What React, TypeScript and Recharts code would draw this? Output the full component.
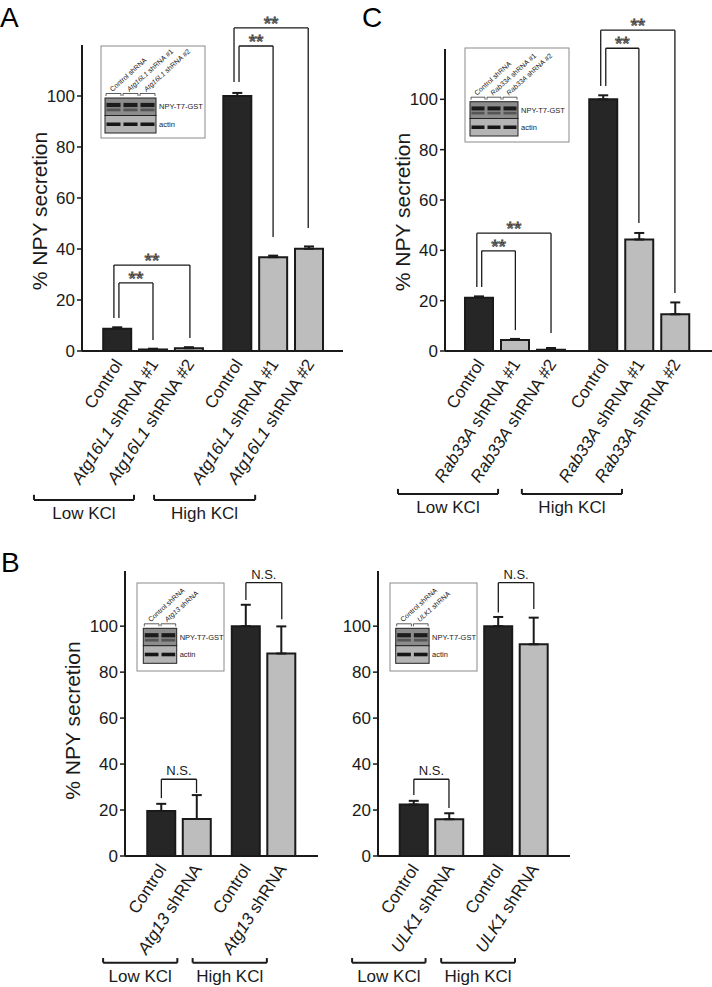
import {
  Bar,
  BarChart,
  Cell,
  ErrorBar,
  ReferenceDot,
  ReferenceLine,
  XAxis,
  YAxis,
} from "recharts";

const FONT = '"Liberation Sans", Arial, Helvetica, sans-serif';
const INK = "#1a1a1a";
const DARK = "#262626";
const LIGHT = "#bdbdbd";

// ---- panel A (Atg16L1) ----
const posA = [0, 1, 2, 3.35, 4.35, 5.35];
const labelsA = [
  "Control",
  "Atg16L1 shRNA #1",
  "Atg16L1 shRNA #2",
  "Control",
  "Atg16L1 shRNA #1",
  "Atg16L1 shRNA #2",
];
const valuesA = [8.7, 0.6, 1.1, 100, 36.8, 40.1];
const errA = [0.6, 0.3, 0.4, 1.2, 0.6, 0.9];
const shadesA = ["dark", "light", "light", "dark", "light", "light"];
const bracketsA = [
  { x1: -0.09, x2: 2.03, top: 33.7, y1: 12.9, y2: 5.1, text: "**" },
  { x1: 0.05, x2: 1.0, top: 26.7, y1: 12.9, y2: 4.3, text: "**" },
  { x1: 3.26, x2: 5.33, top: 126.7, y1: 105.5, y2: 48.2, text: "**" },
  { x1: 3.4, x2: 4.35, top: 119.6, y1: 105.5, y2: 44.7, text: "**" },
];
const groupsA = [
  { x1: -2.32, x2: 0.47, y: -58.4, text: "Low KCl" },
  { x1: 1.03, x2: 3.85, y: -58.4, text: "High KCl" },
];

// ---- panel C (Rab33A) ----
const posC = [0, 1, 2, 3.45, 4.45, 5.45];
const labelsC = [
  "Control",
  "Rab33A shRNA #1",
  "Rab33A shRNA #2",
  "Control",
  "Rab33A shRNA #1",
  "Rab33A shRNA #2",
];
const valuesC = [21.2, 4.4, 0.5, 100, 44.3, 14.6];
const errC = [0.5, 0.4, 0.7, 1.6, 2.6, 4.7];
const shadesC = ["dark", "light", "light", "dark", "light", "light"];
const bracketsC = [
  { x1: -0.06, x2: 2.0, top: 46.8, y1: 25.4, y2: 7.2, text: "**" },
  { x1: 0.075, x2: 1.01, top: 39.8, y1: 25.4, y2: 8.3, text: "**" },
  { x1: 3.38, x2: 5.44, top: 127.5, y1: 105.3, y2: 23, text: "**" },
  { x1: 3.52, x2: 4.44, top: 120.3, y1: 105.3, y2: 50.9, text: "**" },
];
const groupsC = [
  { x1: -2.25, x2: 0.53, y: -56.8, text: "Low KCl" },
  { x1: 1.19, x2: 3.97, y: -56.8, text: "High KCl" },
];

// ---- panel B left (Atg13) ----
const posB = [0, 1, 2.38, 3.38];
const labelsB1 = ["Control", "Atg13 shRNA", "Control", "Atg13 shRNA"];
const valuesB1 = [19.6, 16.1, 100, 88.1];
const errB1 = [3.1, 10.4, 9.3, 11.8];
const shadesB = ["dark", "light", "dark", "light"];
const bracketsB1 = [
  { x1: 0.01, x2: 1.0, top: 33.4, y1: 25.2, y2: 27.4, text: "N.S." },
  { x1: 2.39, x2: 3.4, top: 118.9, y1: 111.4, y2: 103, text: "N.S." },
];
const groupsB1 = [
  { x1: -1.63, x2: 0.46, y: -46.4, text: "Low KCl" },
  { x1: 0.89, x2: 2.98, y: -46.4, text: "High KCl" },
];

// ---- panel B right (ULK1) ----
const labelsB2 = ["Control", "ULK1 shRNA", "Control", "ULK1 shRNA"];
const valuesB2 = [22.4, 16.0, 100, 92.1];
const errB2 = [1.6, 2.6, 4.0, 11.6];
const bracketsB2 = [
  { x1: 0.01, x2: 1.0, top: 33.4, y1: 26.5, y2: 20.9, text: "N.S." },
  { x1: 2.39, x2: 3.39, top: 118.9, y1: 105.9, y2: 107.5, text: "N.S." },
];
const groupsB2 = [
  { x1: -1.73, x2: 0.34, y: -46.4, text: "Low KCl" },
  { x1: 0.78, x2: 2.86, y: -46.4, text: "High KCl" },
];

const yTicks = [0, 20, 40, 60, 80, 100];

type Bracket = { x1: number; x2: number; top: number; y1: number; y2: number; text: string };
type Group = { x1: number; x2: number; y: number; text: string };

const splitLabel = (label: string) => {
  if (label === "Control" || label.startsWith("Control ")) return ["", label];
  const i = label.indexOf(" ");
  return [label.slice(0, i), label.slice(i)];
};

const makeTick = (labels: string[]) => (props: any) => {
  const { x, y, index } = props;
  const [gene, rest] = splitLabel(labels[index] ?? "");
  return (
    <g transform={`translate(${x + 6},${y + 13}) rotate(-57)`}>
      <text textAnchor="end" fontSize={17} fontFamily={FONT} fill={INK}>
        {gene && <tspan fontStyle="italic">{gene}</tspan>}
        <tspan>{rest}</tspan>
      </text>
    </g>
  );
};

const yLabel = (dist: number, dy: number) => (props: any) => {
  const vb = props.viewBox;
  const cx = vb.x + vb.width - dist;
  const cy = vb.y + vb.height / 2 + dy;
  return (
    <text
      x={cx}
      y={cy}
      transform={`rotate(-90 ${cx} ${cy})`}
      textAnchor="middle"
      dominantBaseline="central"
      fontSize={21}
      fontFamily={FONT}
      fill={INK}
    >
      % NPY secretion
    </text>
  );
};

const textShape = (text: string, dy: number, size: number, star: boolean) => (p: any) => (
  <text
    x={p.cx}
    y={p.cy + dy}
    textAnchor="middle"
    fontSize={size}
    fontFamily={FONT}
    fill={star ? "#fff" : INK}
    stroke={star ? "#333" : "none"}
    strokeWidth={star ? 0.8 : 0}
  >
    {text}
  </text>
);

const seg = (key: string, a: [number, number], b: [number, number], width = 1.3) => (
  <ReferenceLine
    key={key}
    segment={[
      { x: a[0], y: a[1] },
      { x: b[0], y: b[1] },
    ]}
    stroke={INK}
    strokeWidth={width}
    ifOverflow="visible"
  />
);

type PanelProps = {
  left: number;
  top: number;
  width: number;
  height: number;
  margin: { top: number; right: number; bottom: number; left: number };
  pos: number[];
  labels: string[];
  values: number[];
  errs: number[];
  shades: string[];
  xDomain: [number, number];
  yMax: number;
  brackets: Bracket[];
  groups: Group[];
  tickH: number;
  showYLabel: boolean;
  yLabelDist: number;
  yLabelDy: number;
};

function Panel(p: PanelProps) {
  const data = p.pos.map((pos, i) => ({
    pos,
    value: p.values[i],
    err: [0, p.errs[i]],
  }));
  return (
    <div style={{ position: "absolute", left: p.left, top: p.top }}>
      <BarChart width={p.width} height={p.height} margin={p.margin} data={data}>
        <XAxis
          type="number"
          dataKey="pos"
          domain={p.xDomain}
          ticks={p.pos}
          interval={0}
          allowDataOverflow
          tick={makeTick(p.labels)}
          tickLine={false}
          tickSize={0}
          tickMargin={0}
          axisLine={{ stroke: INK, strokeWidth: 2 }}
          height={40}
        />
        <YAxis
          type="number"
          domain={[0, p.yMax]}
          ticks={yTicks}
          interval={0}
          allowDataOverflow
          width={50}
          tickSize={5}
          tickMargin={2}
          tick={{ fontSize: 17, fill: INK, fontFamily: FONT }}
          tickLine={{ stroke: INK, strokeWidth: 1.5 }}
          axisLine={{ stroke: INK, strokeWidth: 2 }}
          label={p.showYLabel ? yLabel(p.yLabelDist, p.yLabelDy) : undefined}
        />
        <Bar dataKey="value" barSize={28} stroke={INK} strokeWidth={2} isAnimationActive={false}>
          {data.map((_, i) => (
            <Cell key={i} fill={p.shades[i] === "dark" ? DARK : LIGHT} />
          ))}
          <ErrorBar dataKey="err" width={5} strokeWidth={2} stroke={INK} direction="y" />
        </Bar>
        {p.brackets.map((b, i) => [
          seg(`bl${i}`, [b.x1, b.y1], [b.x1, b.top]),
          seg(`bt${i}`, [b.x1, b.top], [b.x2, b.top]),
          seg(`br${i}`, [b.x2, b.top], [b.x2, b.y2]),
          <ReferenceDot
            key={`bx${i}`}
            x={(b.x1 + b.x2) / 2}
            y={b.top}
            r={0}
            ifOverflow="visible"
            shape={textShape(b.text, b.text === "**" ? 2 : -4, b.text === "**" ? 19 : 13, b.text === "**")}
          />,
        ])}
        {p.groups.map((g, i) => [
          seg(`gl${i}`, [g.x1, g.y + p.tickH], [g.x1, g.y], 2),
          seg(`gt${i}`, [g.x1, g.y], [g.x2, g.y], 2),
          seg(`gr${i}`, [g.x2, g.y], [g.x2, g.y + p.tickH], 2),
          <ReferenceDot
            key={`gx${i}`}
            x={(g.x1 + g.x2) / 2}
            y={g.y}
            r={0}
            ifOverflow="visible"
            shape={textShape(g.text, 19, 17, false)}
          />,
        ])}
      </BarChart>
    </div>
  );
}

// ---- western blot insets (picture, not data) ----
type InsetSpec = {
  x: number;
  y: number;
  w: number;
  h: number;
  bx: number;
  bw: number;
  t: number;
  m: number;
  b: number;
  lanes: string[];
};

const insets: InsetSpec[] = [
  { x: 101, y: 46, w: 104, h: 92, bx: 105, bw: 51, t: 98, m: 115.5, b: 133, lanes: ["Control shRNA", "Atg16L1 shRNA #1", "Atg16L1 shRNA #2"] },
  { x: 465, y: 48, w: 104, h: 94, bx: 470, bw: 48, t: 101.7, m: 118.5, b: 136, lanes: ["Control shRNA", "Rab33A shRNA #1", "Rab33A shRNA #2"] },
  { x: 137, y: 583, w: 87, h: 88, bx: 143.3, bw: 33.4, t: 628.3, m: 645.7, b: 663.3, lanes: ["Control shRNA", "Atg13 shRNA"] },
  { x: 390, y: 583, w: 87, h: 88, bx: 395.7, bw: 33.4, t: 628.3, m: 645.7, b: 663.3, lanes: ["Control shRNA", "ULK1 shRNA"] },
];

function Inset({ s }: { s: InsetSpec }) {
  const n = s.lanes.length;
  const lw = s.bw / n;
  const h1 = s.m - s.t;
  const h2 = s.b - s.m;
  return (
    <g>
      <rect x={s.x} y={s.y} width={s.w} height={s.h} fill="#fff" stroke="#8a8a8a" strokeWidth={1} />
      <rect x={s.bx} y={s.t} width={s.bw} height={h1} fill="#8c8c8c" stroke="#222" strokeWidth={1} />
      <rect x={s.bx} y={s.m} width={s.bw} height={h2} fill="#b4b4b4" stroke="#222" strokeWidth={1} />
      {s.lanes.map((lane, i) => {
        const lx = s.bx + i * lw;
        const [gene, rest] = splitLabel(lane);
        return (
          <g key={i}>
            <rect x={lx + 1.5} y={s.t + h1 * 0.28} width={lw - 3} height={h1 * 0.24} fill="#1c1c1c" filter="url(#blur)" />
            <rect x={lx + 1.5} y={s.t + h1 * 0.6} width={lw - 3} height={h1 * 0.16} fill="#555" filter="url(#blur)" />
            <rect x={lx + 1.5} y={s.m + h2 * 0.4} width={lw - 3} height={h2 * 0.2} fill="#141414" filter="url(#blur)" />
            <path
              d={`M${lx + 1},${s.t - 2} V${s.t - 4.5} H${lx + lw - 1} V${s.t - 2}`}
              fill="none"
              stroke="#333"
              strokeWidth={0.8}
            />
            <text
              transform={`translate(${lx + lw / 2 - 1},${s.t - 6}) rotate(-42)`}
              fontSize={7}
              fontFamily={FONT}
              fill="#222"
            >
              {gene && <tspan fontStyle="italic">{gene}</tspan>}
              <tspan>{rest}</tspan>
            </text>
          </g>
        );
      })}
      <text x={s.bx + s.bw + 3} y={(s.t + s.m) / 2 + 2.5} fontSize={7.5} fontFamily={FONT} fill="#222">
        NPY-T7-GST
      </text>
      <text x={s.bx + s.bw + 3} y={(s.m + s.b) / 2 + 2.5} fontSize={7.5} fontFamily={FONT} fill="#222">
        actin
      </text>
    </g>
  );
}

export default function App() {
  return (
    <div
      style={{
        position: "absolute",
        left: 0,
        top: 0,
        width: 712,
        height: 987,
        background: "#fff",
        fontFamily: FONT,
        overflow: "hidden",
      }}
    >
      <Panel
        left={0}
        top={0}
        width={355}
        height={530}
        margin={{ top: 45, right: 12, bottom: 139, left: 32 }}
        pos={posA}
        labels={labelsA}
        values={valuesA}
        errs={errA}
        shades={shadesA}
        xDomain={[-0.98, 6.3]}
        yMax={120}
        brackets={bracketsA}
        groups={groupsA}
        tickH={2}
        showYLabel
        yLabelDist={43}
        yLabelDy={13}
      />
      <Panel
        left={355}
        top={0}
        width={357}
        height={530}
        margin={{ top: 49, right: 0, bottom: 139, left: 40 }}
        pos={posC}
        labels={labelsC}
        values={valuesC}
        errs={errC}
        shades={shadesC}
        xDomain={[-0.944, 6.47]}
        yMax={120}
        brackets={bracketsC}
        groups={groupsC}
        tickH={2}
        showYLabel
        yLabelDist={43}
        yLabelDy={12}
      />
      <Panel
        left={0}
        top={520}
        width={340}
        height={467}
        margin={{ top: 51, right: 22, bottom: 91, left: 75 }}
        pos={posB}
        labels={labelsB1}
        values={valuesB1}
        errs={errB1}
        shades={shadesB}
        xDomain={[-1.014, 4.42]}
        yMax={124}
        brackets={bracketsB1}
        groups={groupsB1}
        tickH={2}
        showYLabel
        yLabelDist={53}
        yLabelDy={7}
      />
      <Panel
        left={320}
        top={520}
        width={392}
        height={467}
        margin={{ top: 51, right: 142, bottom: 91, left: 8 }}
        pos={posB}
        labels={labelsB2}
        values={valuesB2}
        errs={errB2}
        shades={shadesB}
        xDomain={[-1.0, 4.41]}
        yMax={124}
        brackets={bracketsB2}
        groups={groupsB2}
        tickH={2}
        showYLabel={false}
        yLabelDist={0}
        yLabelDy={0}
      />
      <svg
        width={712}
        height={987}
        style={{ position: "absolute", left: 0, top: 0, pointerEvents: "none" }}
      >
        <defs>
          <filter id="blur" x="-20%" y="-50%" width="140%" height="200%">
            <feGaussianBlur stdDeviation={0.7} />
          </filter>
        </defs>
        <text x={0} y={27} fontSize={28} fontFamily={FONT} fill="#000">
          A
        </text>
        <text x={362} y={27} fontSize={28} fontFamily={FONT} fill="#000">
          C
        </text>
        <text x={1} y={572} fontSize={28} fontFamily={FONT} fill="#000">
          B
        </text>
        {insets.map((s, i) => (
          <Inset key={i} s={s} />
        ))}
      </svg>
    </div>
  );
}
